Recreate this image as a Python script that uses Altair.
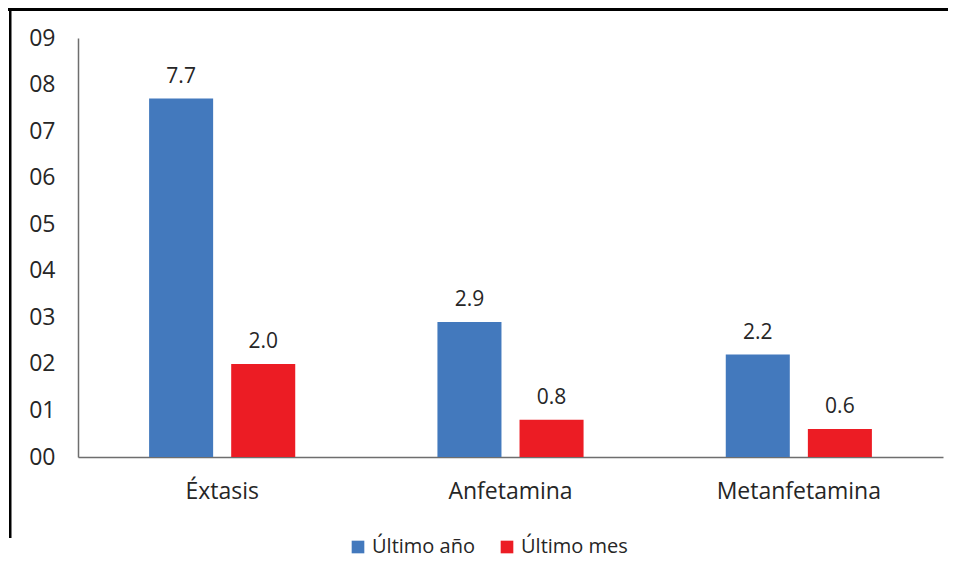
import altair as alt
import pandas as pd

categories = ["Éxtasis", "Anfetamina", "Metanfetamina"]
series = ["Último año", "Último mes"]
ultimo_anio = [7.7, 2.9, 2.2]
ultimo_mes = [2.0, 0.8, 0.6]
y_ticks = list(range(0, 10))
colors = ["#4379BD", "#EC1C24"]

rows = []
for c, a, m in zip(categories, ultimo_anio, ultimo_mes):
    rows.append({"cat": c, "serie": series[0], "valor": a})
    rows.append({"cat": c, "serie": series[1], "valor": m})
df = pd.DataFrame(rows)

FONT = "Open Sans"
TXT = "#262626"
AX = "#6e6e6e"

x = alt.X("cat:N", sort=categories,
          scale=alt.Scale(paddingInner=0, paddingOuter=0),
          axis=alt.Axis(title=None, labelAngle=0, ticks=False, labelFontSize=23,
                        labelPadding=23, labelColor=TXT, domainColor=AX,
                        domainWidth=1.5, grid=False, labelFont=FONT))
xoff = alt.XOffset("serie:N", sort=series,
                   scale=alt.Scale(domain=series, paddingInner=0.22, paddingOuter=0.866))
y = alt.Y("valor:Q", scale=alt.Scale(domain=[0, 9], nice=False),
          axis=alt.Axis(title=None, values=y_ticks, format="02d", ticks=False,
                        grid=False, labelFontSize=23, labelPadding=23,
                        labelColor=TXT, domainColor=AX, domainWidth=1.5,
                        labelFont=FONT))
color = alt.Color("serie:N", sort=series,
                  scale=alt.Scale(domain=series, range=colors),
                  legend=alt.Legend(title=None, orient="none", legendX=270, legendY=499,
                                    direction="horizontal", symbolType="square",
                                    symbolSize=160, symbolStrokeWidth=0,
                                    labelFontSize=20, labelFont=FONT, labelColor=TXT,
                                    columnPadding=22, labelOffset=4))

bars = alt.Chart(df).mark_bar().encode(x=x, xOffset=xoff, y=y, color=color)
labels = alt.Chart(df).mark_text(dy=-22, fontSize=21, font=FONT, color=TXT).encode(
    x=x, xOffset=xoff, y=y, text=alt.Text("valor:Q", format=".1f"))

frame_data = alt.Data(values=[{"k": 1}])
top_rule = alt.Chart(frame_data).mark_rule(color="black", strokeWidth=3).encode(
    x=alt.value(-70), x2=alt.value(870), y=alt.value(-28.5), y2=alt.value(-28.5))
left_bar = alt.Chart(frame_data).mark_rect(color="black").encode(
    x=alt.value(-69), x2=alt.value(-66.5), y=alt.value(-30), y2=alt.value(500))

chart = alt.layer(bars, labels, top_rule, left_bar).properties(
    width=865, height=419,
    autosize=alt.AutoSizeParams(type="none"),
    padding={"left": 70, "top": 30, "right": 5, "bottom": 105},
).configure_view(stroke=None)

chart.save("out.html", embed_options={"renderer": "svg", "actions": False})
